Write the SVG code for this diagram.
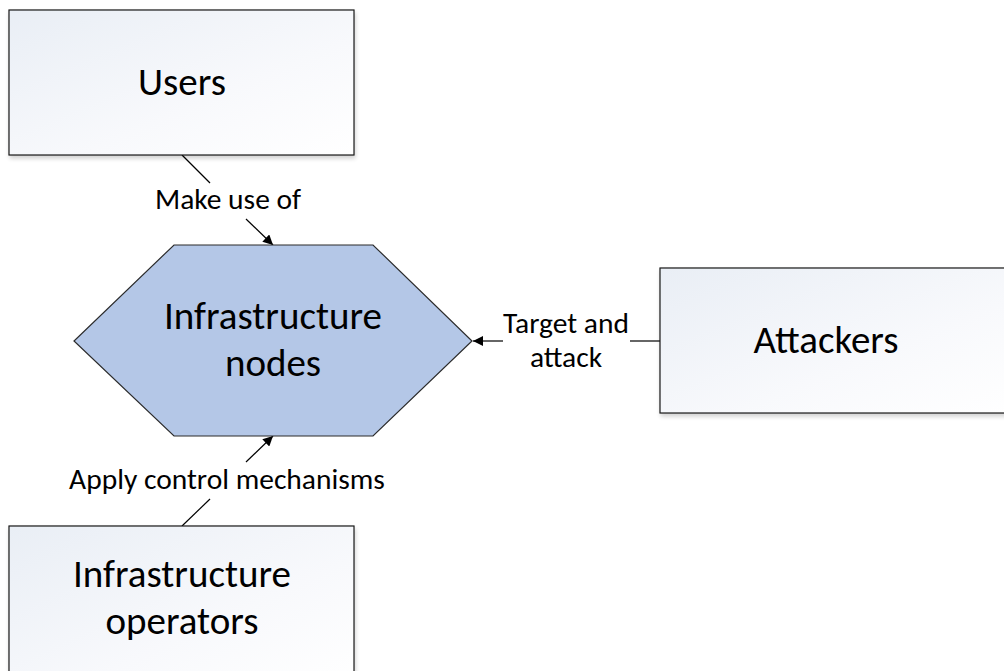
<svg xmlns="http://www.w3.org/2000/svg" width="1004" height="671" viewBox="0 0 1004 671">
  <defs>
    <linearGradient id="boxFill" x1="0" y1="0" x2="1" y2="1">
      <stop offset="0" stop-color="#e9eef5"/>
      <stop offset="0.6" stop-color="#f8f9fc"/>
      <stop offset="1" stop-color="#ffffff"/>
    </linearGradient>
    <filter id="shadow" x="-10%" y="-10%" width="120%" height="130%">
      <feGaussianBlur in="SourceAlpha" stdDeviation="2"/>
      <feOffset dx="1" dy="3" result="b"/>
      <feComponentTransfer><feFuncA type="linear" slope="0.18"/></feComponentTransfer>
      <feMerge><feMergeNode/><feMergeNode in="SourceGraphic"/></feMerge>
    </filter>
    <marker id="arrow" viewBox="0 0 10 10" refX="10" refY="5" markerWidth="10" markerHeight="10" markerUnits="userSpaceOnUse" orient="auto">
      <path d="M0,0 L10,5 L0,10 z" fill="#000"/>
    </marker>
    <style>
      .box { fill: url(#boxFill); stroke: #1a1a1a; stroke-width: 1.2; filter: url(#shadow); }
      .hex { fill: #b4c7e7; stroke: #2b2b2b; stroke-width: 1.2; }
      .main { font-family: Carlito, Calibri, Lato, "Liberation Sans", sans-serif; font-size: 39px; fill: #000; text-anchor: middle; }
      .lbl { font-family: Carlito, Calibri, Lato, "Liberation Sans", sans-serif; font-size: 29.5px; fill: #000; text-anchor: middle; }
      .conn { stroke: #000; stroke-width: 1.2; fill: none; }
    </style>
  </defs>
  <rect width="1004" height="671" fill="#fff"/>

  <g id="connectors">
    <line class="conn" x1="182" y1="155" x2="210" y2="183"/>
    <line class="conn" x1="246" y1="219" x2="273" y2="245" marker-end="url(#arrow)"/>
    <text class="lbl" x="228" y="209">Make use of</text>

    <line class="conn" x1="660" y1="341" x2="630" y2="341"/>
    <line class="conn" x1="503" y1="341" x2="473" y2="341" marker-end="url(#arrow)"/>
    <text class="lbl" x="566" y="333">Target and</text>
    <text class="lbl" x="566" y="367">attack</text>

    <line class="conn" x1="182" y1="526" x2="210" y2="499"/>
    <line class="conn" x1="246" y1="462" x2="273" y2="436" marker-end="url(#arrow)"/>
    <text class="lbl" x="227" y="489">Apply control mechanisms</text>
  </g>

  <g id="users">
    <rect class="box" x="9" y="10" width="345" height="145"/>
    <text class="main" x="182" y="95">Users</text>
  </g>

  <g id="infrastructure-nodes">
    <polygon class="hex" points="174,245 373,245 472,341 373,436 174,436 74,341"/>
    <text class="main" x="273" y="329">Infrastructure</text>
    <text class="main" x="273" y="376">nodes</text>
  </g>

  <g id="attackers">
    <rect class="box" x="660" y="268" width="360" height="145"/>
    <text class="main" x="826" y="353">Attackers</text>
  </g>

  <g id="infrastructure-operators">
    <rect class="box" x="9" y="526" width="345" height="160"/>
    <text class="main" x="182" y="587">Infrastructure</text>
    <text class="main" x="182" y="634">operators</text>
  </g>
</svg>
